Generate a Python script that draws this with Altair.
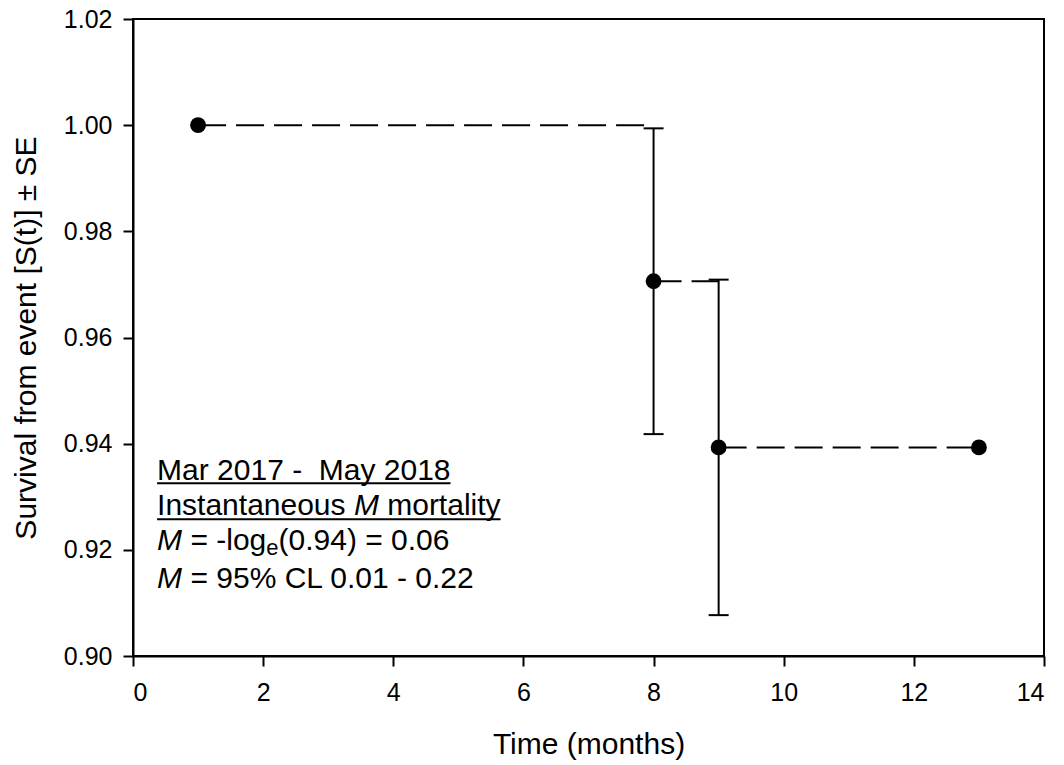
import altair as alt
import pandas as pd

# ---- data ----
times = [1, 8, 9, 13]
survival = [1.0, 0.9706, 0.9393, 0.9393]
se_times = [8, 9]
se_lower = [0.9418, 0.9077]
se_upper = [0.9994, 0.9709]

x_ticks = [0, 2, 4, 6, 8, 10, 12, 14]
y_ticks = [0.90, 0.92, 0.94, 0.96, 0.98, 1.00, 1.02]

ann_line1 = "Mar 2017 -\u00a0 May 2018"
ann_line2 = ["Instantaneous", "M", "mortality"]
ann_line3 = ["M", "= -log", "e", "(0.94) = 0.06"]
ann_line4 = ["M", "= 95% CL 0.01 - 0.22"]

# ---- layout ----
W, H = 911, 637
X_DOM = [0, 14]
Y_DOM = [0.90, 1.02]
FONT = "Liberation Sans"
px_x = W / (X_DOM[1] - X_DOM[0])
px_y = H / (Y_DOM[1] - Y_DOM[0])

pts = pd.DataFrame({"t": times, "s": survival})
segs = pd.DataFrame({"x": times[:-1], "x2": times[1:], "y": survival[:-1]})
errs = pd.DataFrame({"t": se_times, "lo": se_lower, "hi": se_upper})
caps = pd.DataFrame({"t": se_times * 2, "v": se_lower + se_upper})

xs = alt.Scale(domain=X_DOM, nice=False, zero=False)
ys = alt.Scale(domain=Y_DOM, nice=False, zero=False)

x_axis = alt.Axis(values=x_ticks, format="d", title="Time (months)",
                  labelPadding=14, titlePadding=24)
y_axis = alt.Axis(values=y_ticks, format=".2f", title="Survival from event [S(t)] ± SE",
                  labelPadding=11, titlePadding=22)

lines = alt.Chart(segs).mark_rule(color="black", strokeWidth=2, strokeDash=[28, 10]).encode(
    x=alt.X("x:Q", scale=xs, axis=x_axis),
    x2="x2:Q",
    y=alt.Y("y:Q", scale=ys, axis=y_axis),
)

bars = alt.Chart(errs).mark_rule(color="black", strokeWidth=2).encode(
    x=alt.X("t:Q", scale=xs), y=alt.Y("lo:Q", scale=ys), y2="hi:Q"
)

capmarks = alt.Chart(caps).mark_point(
    shape="M-1,0L1,0", size=400, stroke="black", strokeWidth=2, filled=False, opacity=1
).encode(x=alt.X("t:Q", scale=xs), y=alt.Y("v:Q", scale=ys))

dots = alt.Chart(pts).mark_circle(size=250, color="black", opacity=1).encode(
    x=alt.X("t:Q", scale=xs), y=alt.Y("s:Q", scale=ys)
)

# ---- annotation block ----
FS = 30
SUB = 22
ax0 = 0.37
line_y = [0.9332, 0.9266, 0.9200, 0.9128]
sp = 0.278 * FS


def seg(text, line, dx=0, dy=0, italic=False, size=FS):
    df = pd.DataFrame({"x": [ax0], "y": [line_y[line]], "txt": [text]})
    kw = dict(align="left", baseline="alphabetic", dx=dx, dy=dy, fontSize=size,
              font=FONT, color="black")
    if italic:
        kw["fontStyle"] = "italic"
    return alt.Chart(df).mark_text(**kw).encode(
        x=alt.X("x:Q", scale=xs), y=alt.Y("y:Q", scale=ys), text="txt:N"
    )


w_M = 0.833 * FS
texts = [
    seg(ann_line1, 0),
    seg(ann_line2[0], 1),
    seg(ann_line2[1], 1, dx=6.282 * FS + sp, italic=True),
    seg(ann_line2[2], 1, dx=6.282 * FS + sp + w_M + sp),
    seg(ann_line3[0], 2, italic=True),
    seg(ann_line3[1], 2, dx=w_M + sp),
    seg(ann_line3[2], 2, dx=w_M + sp + 2.529 * FS, dy=5, size=SUB),
    seg(ann_line3[3], 2, dx=w_M + sp + 2.529 * FS + 0.556 * SUB),
    seg(ann_line4[0], 3, italic=True),
    seg(ann_line4[1], 3, dx=w_M + sp),
]

ul_w = [9.782 * FS, 11.449 * FS]
ul = pd.DataFrame({
    "x": [ax0, ax0],
    "x2": [ax0 + ul_w[0] / px_x, ax0 + ul_w[1] / px_x],
    "y": [line_y[0] - 3.5 / px_y, line_y[1] - 4.5 / px_y],
})
underlines = alt.Chart(ul).mark_rule(color="black", strokeWidth=2).encode(
    x=alt.X("x:Q", scale=xs), x2="x2:Q", y=alt.Y("y:Q", scale=ys)
)

chart = alt.layer(lines, bars, capmarks, dots, underlines, *texts).properties(
    width=W, height=H,
    autosize=alt.AutoSizeParams(type="none"),
    padding={"left": 133, "top": 19, "right": 20, "bottom": 109},
    background="white",
).configure_view(
    stroke="black", strokeWidth=2
).configure_axis(
    grid=False,
    domainColor="black", domainWidth=2,
    tickColor="black", tickWidth=2, tickSize=10,
    labelFont=FONT, labelFontSize=25, labelColor="black",
    titleFont=FONT, titleFontSize=30, titleFontWeight="normal", titleColor="black",
)

chart.save("out.html", embed_options={"renderer": "svg", "actions": False})
